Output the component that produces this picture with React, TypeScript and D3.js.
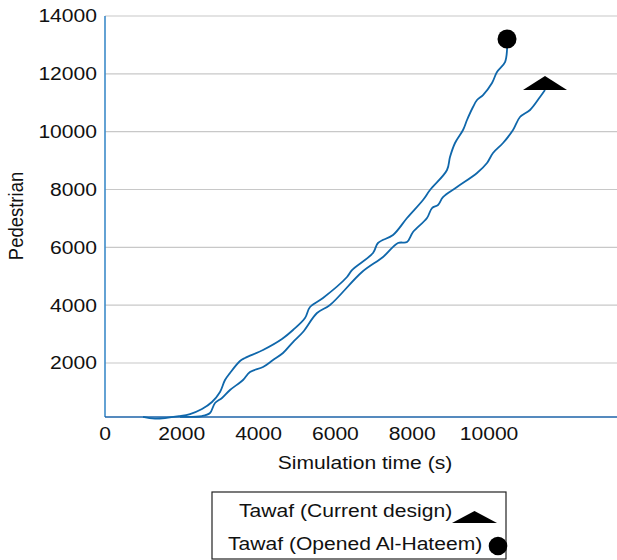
import React from "react";
import * as d3 from "d3";

const xTicks = [0, 2000, 4000, 6000, 8000, 10000];
const yTicks = [2000, 4000, 6000, 8000, 10000, 12000, 14000];

// Tawaf (Opened Al-Hateem) — circle marker
const hateemTime = [990, 1302, 1953, 2214, 2526, 2786, 2995, 3125, 3255, 3516, 3646, 4115, 4609, 4896, 5208, 5339, 5677, 6302, 6432, 6979, 7109, 7500, 7865, 8281, 8464, 8906, 8984, 9115, 9323, 9427, 9583, 9688, 9844, 10078, 10208, 10417, 10469, 10469];
const hateemPed = [140, 75, 167, 236, 409, 651, 997, 1412, 1654, 2069, 2173, 2450, 2830, 3141, 3556, 3936, 4248, 4974, 5216, 5804, 6150, 6426, 7014, 7637, 7982, 8674, 9123, 9608, 10057, 10403, 10852, 11094, 11267, 11682, 12063, 12409, 12824, 13204];

// Tawaf (Current design) — triangle marker
const currentTime = [1953, 2526, 2734, 2865, 3047, 3255, 3594, 3776, 4115, 4375, 4635, 4896, 5156, 5521, 5859, 6693, 7240, 7630, 7865, 8021, 8385, 8516, 8672, 8802, 9167, 9688, 9948, 10104, 10365, 10625, 10807, 11068, 11328, 11458];
const currentPed = [140, 167, 271, 617, 790, 1066, 1412, 1689, 1862, 2104, 2346, 2726, 3072, 3729, 4006, 5147, 5666, 6150, 6184, 6530, 7014, 7360, 7464, 7740, 8086, 8570, 8916, 9262, 9608, 10057, 10507, 10749, 11198, 11440];

const legendLabels = ["Tawaf (Current design)", "Tawaf (Opened Al-Hateem)"];

const W = 617;
const H = 560;
const FONT = "'Liberation Sans', Arial, Helvetica, sans-serif";
const FS = 18.5;
const SX = 1.14;
const LINE = "#0f67ab";

export default function App() {
  const x = d3.scaleLinear().domain([0, 13333]).range([105, 617]);
  const y = d3.scaleLinear().domain([133, 14000]).range([417, 16]);

  const line = d3
    .line<[number, number]>()
    .x((d) => x(d[0]))
    .y((d) => y(d[1]))
    .curve(d3.curveCatmullRom.alpha(0.5));

  const aPts = hateemTime.map((t, i) => [t, hateemPed[i]] as [number, number]);
  const bPts = currentTime.map((t, i) => [t, currentPed[i]] as [number, number]);
  const aEnd = aPts[aPts.length - 1];
  const bEnd = bPts[bPts.length - 1];

  const tri = (cx: number, by: number, w: number, h: number) =>
    `M${cx - w / 2},${by} L${cx},${by - h} L${cx + w / 2},${by} Z`;

  const txt = (s: string, tx: number, ty: number, anchor: string, dy = "0") => (
    <text
      transform={`translate(${tx},${ty}) scale(${SX},1)`}
      textAnchor={anchor}
      dy={dy}
      fontFamily={FONT}
      fontSize={FS}
      fill="#111"
    >
      {s}
    </text>
  );

  return (
    <svg
      width={W}
      height={H}
      style={{ position: "absolute", left: 0, top: 0, background: "#fff" }}
    >
      {/* gridlines */}
      {yTicks.map((t) => (
        <line key={t} x1={x(0)} x2={W} y1={y(t)} y2={y(t)} stroke="#c8c8c8" strokeWidth={1.2} />
      ))}
      {/* axes */}
      <line x1={x(0)} x2={x(0)} y1={y(14000)} y2={y(133)} stroke="#3d8bc9" strokeWidth={1.6} />
      <line x1={x(0)} x2={W} y1={y(133)} y2={y(133)} stroke="#1c63a8" strokeWidth={1.4} />

      {/* y tick labels */}
      {yTicks.map((t) => (
        <g key={t}>{txt(String(t), 97, y(t), "end", "0.35em")}</g>
      ))}
      {/* x tick labels */}
      {xTicks.map((t) => (
        <g key={t}>{txt(String(t), x(t), 440, "middle")}</g>
      ))}

      {/* axis titles */}
      {txt("Simulation time (s)", 365, 469, "middle")}
      <text
        transform={`translate(23,216) rotate(-90) scale(1,${SX})`}
        textAnchor="middle"
        fontFamily={FONT}
        fontSize={FS}
        fill="#111"
      >
        Pedestrian
      </text>

      {/* series */}
      <path d={line(aPts) || ""} fill="none" stroke={LINE} strokeWidth={1.8} />
      <path d={line(bPts) || ""} fill="none" stroke={LINE} strokeWidth={1.8} />
      <circle cx={x(aEnd[0])} cy={y(aEnd[1])} r={9.5} fill="#000" />
      <path d={tri(x(bEnd[0]), y(bEnd[1]), 44, 14)} fill="#000" />

      {/* legend */}
      <rect x={212} y={492} width={294} height={67} fill="#fff" stroke="#222" strokeWidth={1.2} />
      {txt(legendLabels[0], 239, 517, "start")}
      <path d={tri(474.5, 523, 45, 12)} fill="#000" />
      {txt(legendLabels[1], 228, 550, "start")}
      <circle cx={498} cy={546} r={9.3} fill="#000" />
    </svg>
  );
}
